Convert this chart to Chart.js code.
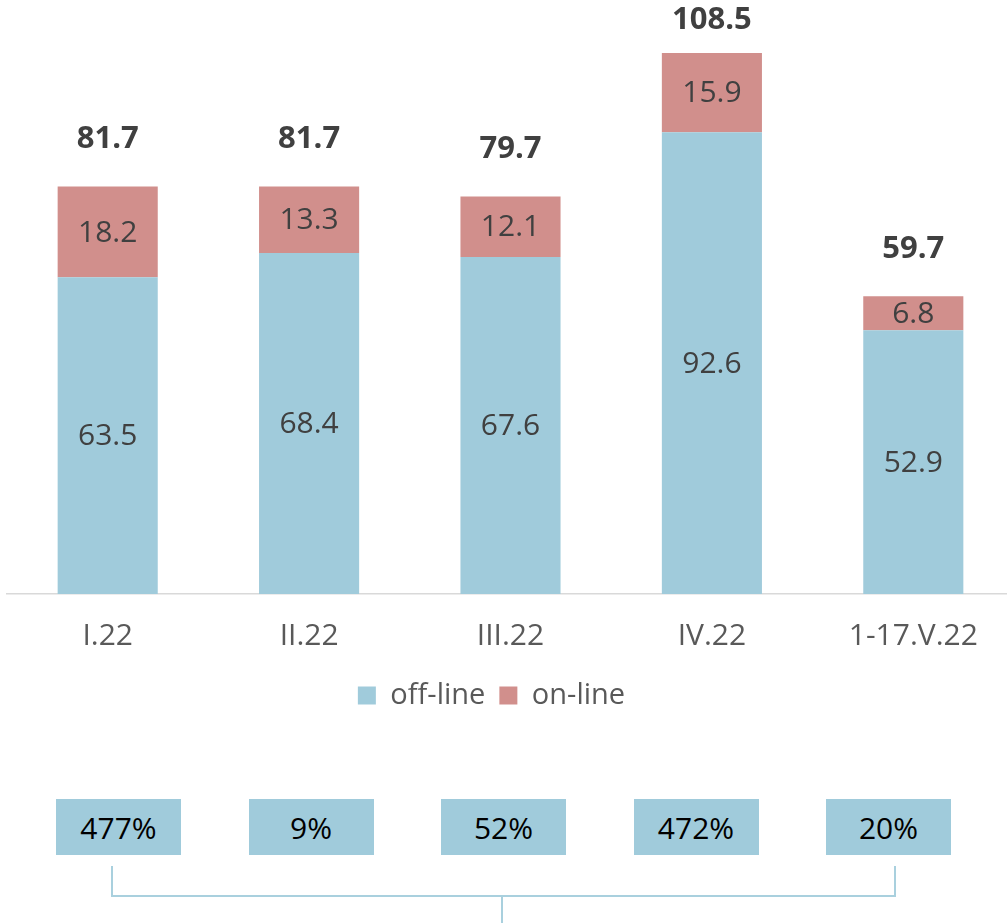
<!DOCTYPE html>
<html>
<head>
<meta charset="utf-8">
<script src="https://cdn.jsdelivr.net/npm/chart.js@4/dist/chart.umd.min.js"></script>
<style>
  body { margin: 0; overflow: hidden; background: #fff; font-family: "Open Sans", sans-serif; }
  #wrap { position: absolute; left: 0; top: 0; width: 1014px; height: 740px; }
  #growth { position: absolute; left: 56px; top: 799px; display: flex; gap: 67.5px; }
  .box { width: 125px; height: 56px; background: #a0cbdb; color: #000; font-size: 30px;
         display: flex; align-items: center; justify-content: center; }
  #bracket { position: absolute; left: 111px; top: 866px; width: 781px; height: 29px;
             border: 2px solid #a9d0de; border-top: none; }
  #stem { position: absolute; left: 501px; top: 897px; width: 2px; height: 30px; background: #a9d0de; }
</style>
</head>
<body>
<div id="wrap"><canvas id="chartCanvas"></canvas></div>
<div id="growth"></div>
<div id="bracket"></div>
<div id="stem"></div>
<script>
// dữ liệu
const categories = ['I.22', 'II.22', 'III.22', 'IV.22', '1-17.V.22'];
const offline = [63.5, 68.4, 67.6, 92.6, 52.9];
const online = [18.2, 13.3, 12.1, 15.9, 6.8];
const totals = [81.7, 81.7, 79.7, 108.5, 59.7];
const growth = ['477%', '9%', '52%', '472%', '20%'];

// ô phần trăm phía dưới
const growthBox = document.getElementById('growth');
growth.forEach(g => {
    const d = document.createElement('div');
    d.className = 'box';
    d.textContent = g;
    growthBox.appendChild(d);
});

// plugin vẽ nhãn giá trị và tổng
const barLabels = {
    id: 'barLabels',
    afterLayout(chart) {
        // legend hơi lệch trái như ảnh gốc
        chart.legend.left -= 19;
        chart.legend.right -= 19;
    },
    afterDatasetsDraw(chart) {
        const ctx = chart.ctx;
        ctx.save();
        ctx.textAlign = 'center';
        ctx.textBaseline = 'middle';
        ctx.fillStyle = '#404040';
        ctx.font = '30px "Open Sans"';
        chart.data.datasets.forEach((ds, i) => {
            chart.getDatasetMeta(i).data.forEach((bar, j) => {
                const p = bar.getProps(['x', 'y', 'base'], true);
                ctx.fillText(ds.data[j].toFixed(1), p.x, (p.y + p.base) / 2 + 1);
            });
        });
        const top = chart.getDatasetMeta(chart.data.datasets.length - 1).data;
        ctx.font = 'bold 31px "Open Sans"';
        top.forEach((bar, j) => {
            const p = bar.getProps(['x', 'y'], true);
            ctx.fillText(totals[j].toFixed(1), p.x, Math.max(p.y - 47, 20));
        });
        ctx.restore();
    }
};

const ctx = document.getElementById('chartCanvas').getContext('2d');
new Chart(ctx, {
    type: 'bar',
    data: {
        labels: categories,
        datasets: [
            { label: 'off-line', data: offline, backgroundColor: '#a0cbdb' },
            { label: 'on-line', data: online, backgroundColor: '#d18f8c' }
        ]
    },
    options: {
        responsive: true,
        maintainAspectRatio: false,
        animation: false,
        categoryPercentage: 1,
        barPercentage: 0.497,
        layout: { padding: { left: 7, right: 0, top: 45.5, bottom: 20 } },
        plugins: {
            tooltip: { enabled: false },
            legend: {
                position: 'bottom',
                labels: {
                    boxWidth: 18,
                    boxHeight: 18,
                    padding: 14,
                    color: '#595959',
                    font: { family: 'Open Sans', size: 29 }
                }
            }
        },
        scales: {
            x: {
                stacked: true,
                grid: { display: false },
                border: { display: true, color: '#d9d9d9', width: 1.5 },
                ticks: { color: '#595959', padding: 16, font: { family: 'Open Sans', size: 30 } },
                afterFit(scale) { scale.height -= 3; }
            },
            y: {
                stacked: true,
                display: false,
                min: 0,
                max: 110
            }
        }
    },
    plugins: [barLabels]
});
</script>
</body>
</html>
